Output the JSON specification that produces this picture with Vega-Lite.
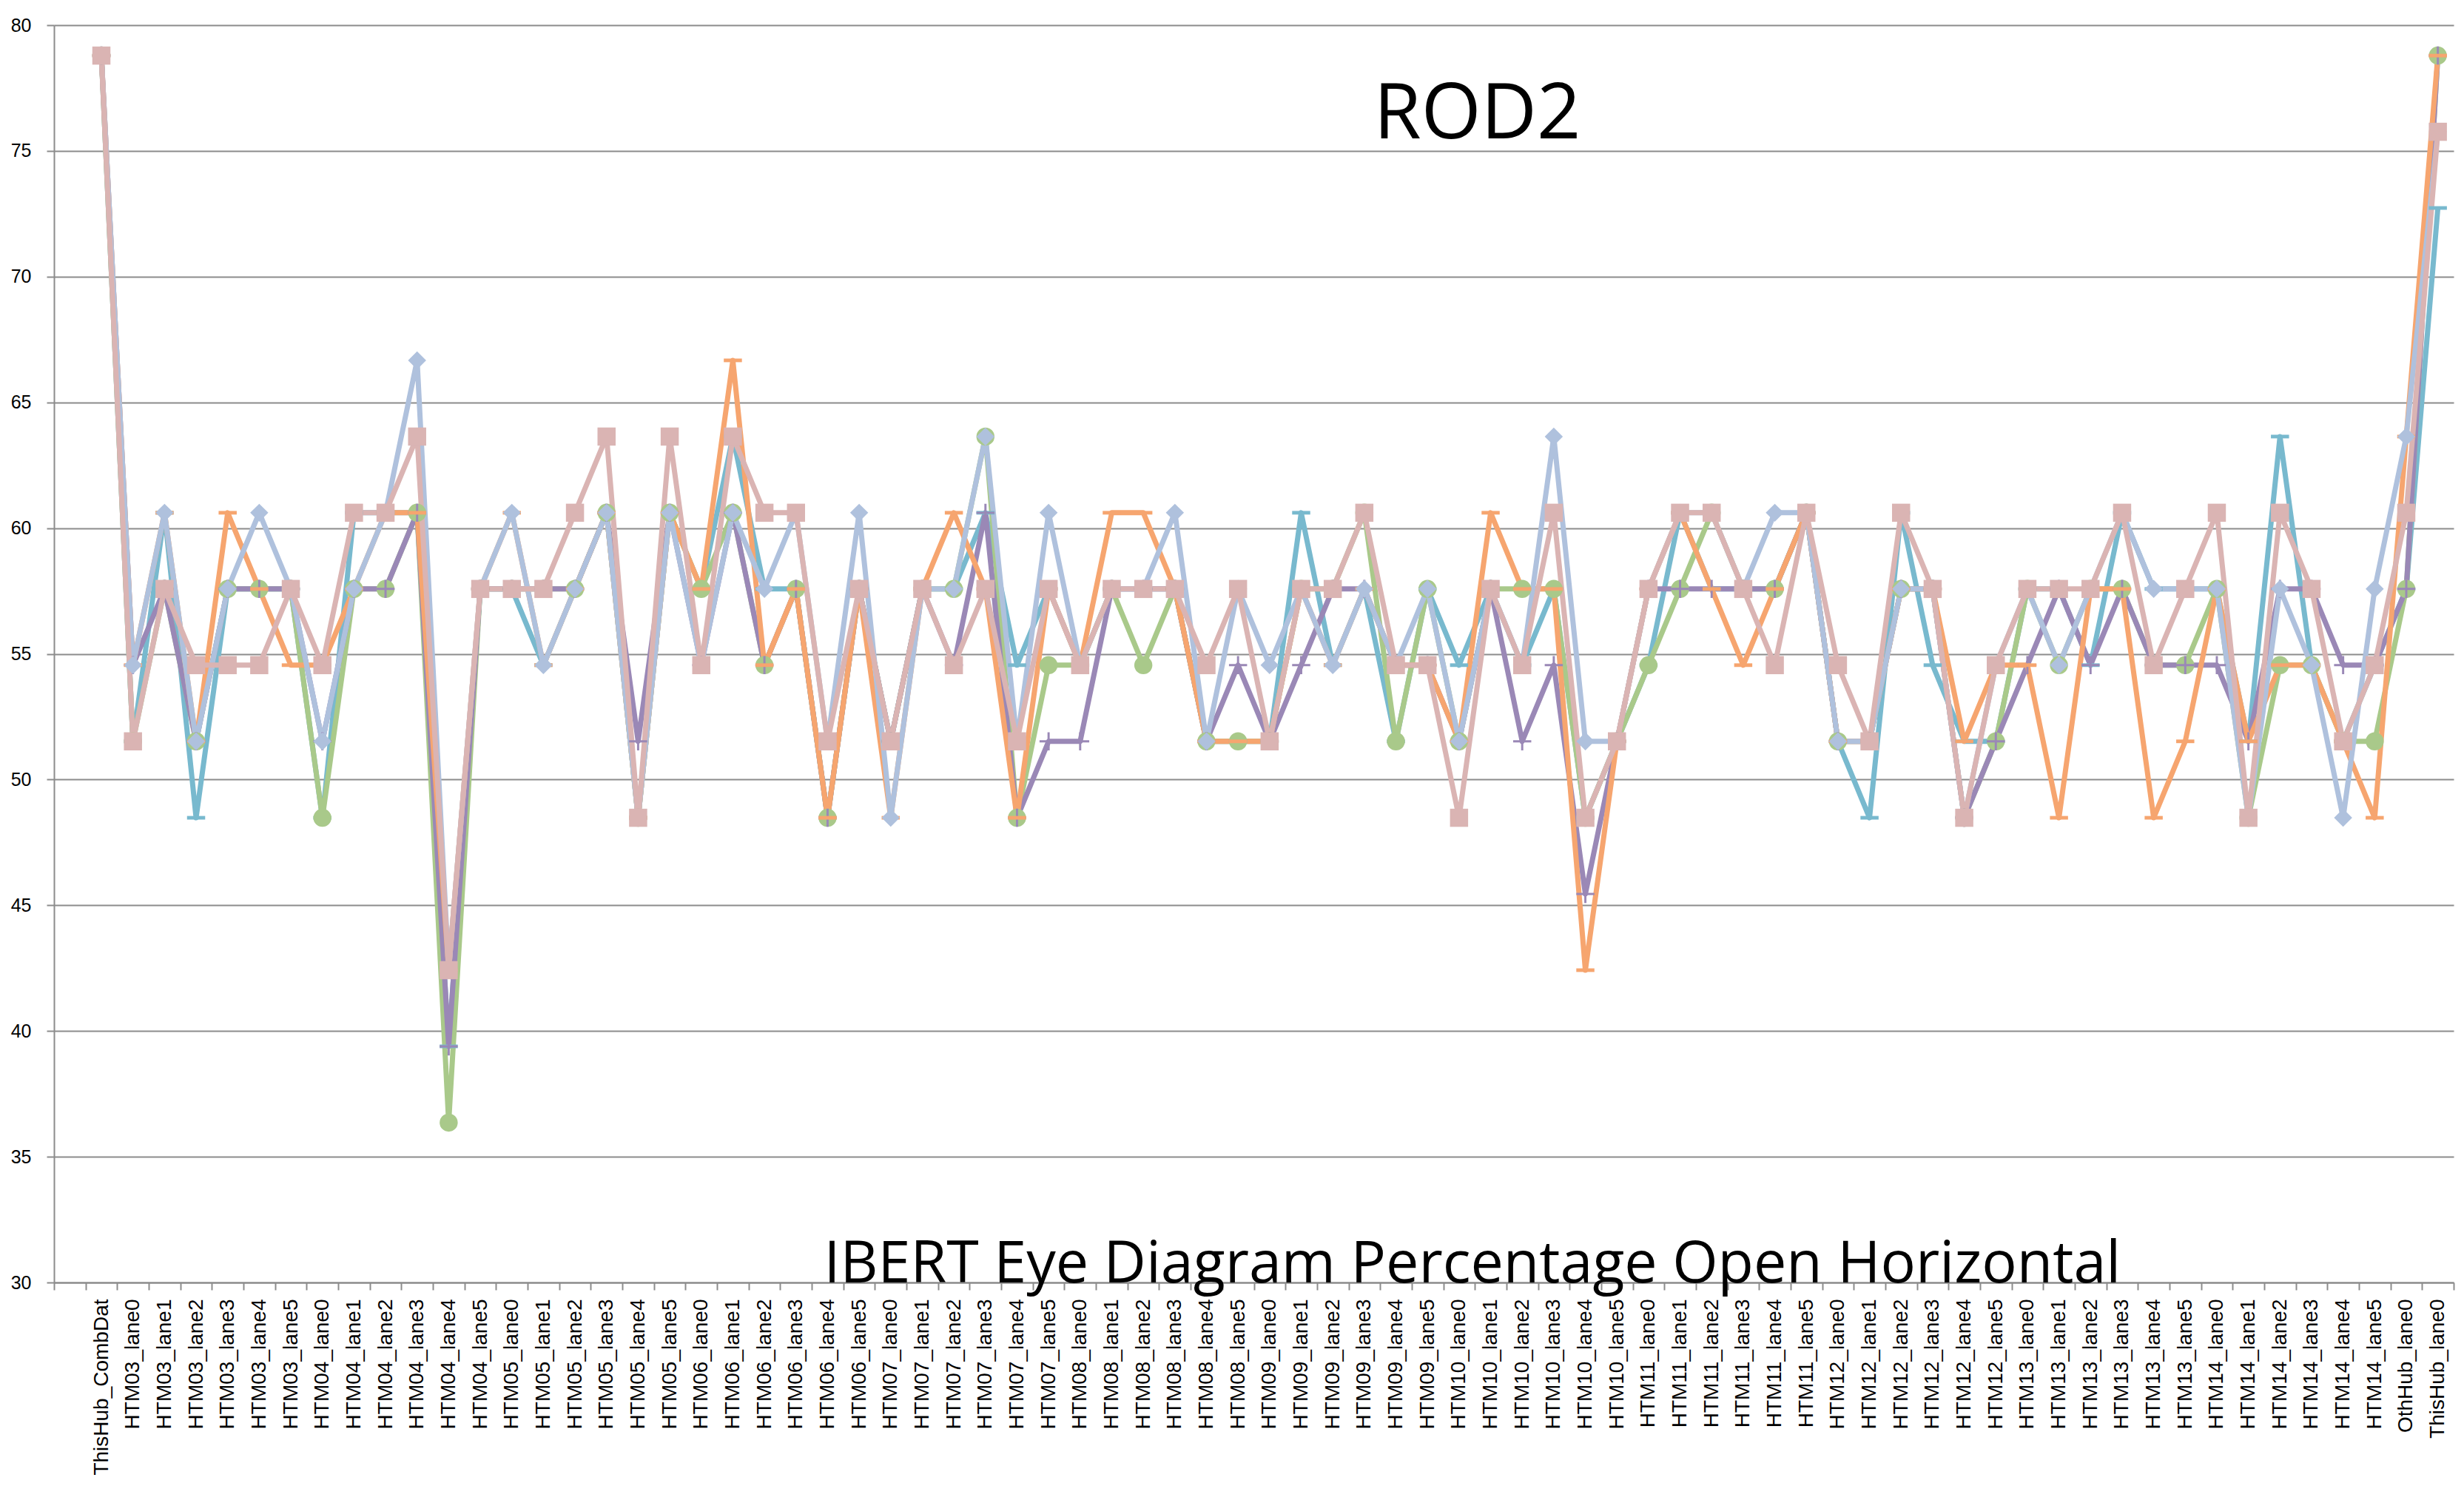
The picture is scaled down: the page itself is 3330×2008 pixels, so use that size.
{
  "$schema": "https://vega.github.io/schema/vega-lite/v6.json",
  "width": 3243,
  "height": 1699,
  "autosize": {"type": "none"},
  "padding": {"left": 73, "top": 34, "right": 14, "bottom": 275},
  "background": "white",
  "config": {
    "view": {"stroke": null},
    "axis": {"labelFont": "Liberation Sans", "labelColor": "#000000", "domainColor": "#8C8C8C", "domainWidth": 2, "tickColor": "#8C8C8C", "tickWidth": 2, "tickSize": 10, "title": null, "labelLimit": 0}
  },
  "datasets": {
    "rod2": [
      {"c": "ThisHub_CombDat", "S1": 78.79, "S2": 78.79, "S3": 78.79, "S4": 78.79, "S5": 78.79, "S6": 78.79},
      {"c": "HTM03_lane0", "S1": 51.52, "S2": 51.52, "S3": 54.55, "S4": 54.55, "S5": 54.55, "S6": 51.52},
      {"c": "HTM03_lane1", "S1": 60.61, "S2": 57.58, "S3": 57.58, "S4": 60.61, "S5": 60.61, "S6": 57.58},
      {"c": "HTM03_lane2", "S1": 48.48, "S2": 51.52, "S3": 51.52, "S4": 51.52, "S5": 51.52, "S6": 54.55},
      {"c": "HTM03_lane3", "S1": 57.58, "S2": 57.58, "S3": 57.58, "S4": 60.61, "S5": 57.58, "S6": 54.55},
      {"c": "HTM03_lane4", "S1": 57.58, "S2": 57.58, "S3": 57.58, "S4": 57.58, "S5": 60.61, "S6": 54.55},
      {"c": "HTM03_lane5", "S1": 57.58, "S2": 57.58, "S3": 57.58, "S4": 54.55, "S5": 57.58, "S6": 57.58},
      {"c": "HTM04_lane0", "S1": 48.48, "S2": 48.48, "S3": 51.52, "S4": 54.55, "S5": 51.52, "S6": 54.55},
      {"c": "HTM04_lane1", "S1": 60.61, "S2": 57.58, "S3": 57.58, "S4": 57.58, "S5": 57.58, "S6": 60.61},
      {"c": "HTM04_lane2", "S1": 60.61, "S2": 57.58, "S3": 57.58, "S4": 60.61, "S5": 60.61, "S6": 60.61},
      {"c": "HTM04_lane3", "S1": 60.61, "S2": 60.61, "S3": 60.61, "S4": 60.61, "S5": 66.67, "S6": 63.64},
      {"c": "HTM04_lane4", "S1": 39.39, "S2": 36.36, "S3": 39.39, "S4": 42.42, "S5": 42.42, "S6": 42.42},
      {"c": "HTM04_lane5", "S1": 57.58, "S2": 57.58, "S3": 57.58, "S4": 57.58, "S5": 57.58, "S6": 57.58},
      {"c": "HTM05_lane0", "S1": 57.58, "S2": 57.58, "S3": 57.58, "S4": 60.61, "S5": 60.61, "S6": 57.58},
      {"c": "HTM05_lane1", "S1": 54.55, "S2": 57.58, "S3": 57.58, "S4": 54.55, "S5": 54.55, "S6": 57.58},
      {"c": "HTM05_lane2", "S1": 57.58, "S2": 57.58, "S3": 57.58, "S4": 57.58, "S5": 57.58, "S6": 60.61},
      {"c": "HTM05_lane3", "S1": 60.61, "S2": 60.61, "S3": 60.61, "S4": 60.61, "S5": 60.61, "S6": 63.64},
      {"c": "HTM05_lane4", "S1": 48.48, "S2": 48.48, "S3": 51.52, "S4": 48.48, "S5": 48.48, "S6": 48.48},
      {"c": "HTM05_lane5", "S1": 60.61, "S2": 60.61, "S3": 60.61, "S4": 60.61, "S5": 60.61, "S6": 63.64},
      {"c": "HTM06_lane0", "S1": 57.58, "S2": 57.58, "S3": 54.55, "S4": 57.58, "S5": 54.55, "S6": 54.55},
      {"c": "HTM06_lane1", "S1": 63.64, "S2": 60.61, "S3": 60.61, "S4": 66.67, "S5": 60.61, "S6": 63.64},
      {"c": "HTM06_lane2", "S1": 57.58, "S2": 54.55, "S3": 54.55, "S4": 54.55, "S5": 57.58, "S6": 60.61},
      {"c": "HTM06_lane3", "S1": 57.58, "S2": 57.58, "S3": 57.58, "S4": 57.58, "S5": 60.61, "S6": 60.61},
      {"c": "HTM06_lane4", "S1": 48.48, "S2": 48.48, "S3": 48.48, "S4": 48.48, "S5": 51.52, "S6": 51.52},
      {"c": "HTM06_lane5", "S1": 57.58, "S2": 57.58, "S3": 57.58, "S4": 57.58, "S5": 60.61, "S6": 57.58},
      {"c": "HTM07_lane0", "S1": 51.52, "S2": 51.52, "S3": 51.52, "S4": 48.48, "S5": 48.48, "S6": 51.52},
      {"c": "HTM07_lane1", "S1": 57.58, "S2": 57.58, "S3": 57.58, "S4": 57.58, "S5": 57.58, "S6": 57.58},
      {"c": "HTM07_lane2", "S1": 57.58, "S2": 57.58, "S3": 54.55, "S4": 60.61, "S5": 57.58, "S6": 54.55},
      {"c": "HTM07_lane3", "S1": 60.61, "S2": 63.64, "S3": 60.61, "S4": 57.58, "S5": 63.64, "S6": 57.58},
      {"c": "HTM07_lane4", "S1": 54.55, "S2": 48.48, "S3": 48.48, "S4": 48.48, "S5": 51.52, "S6": 51.52},
      {"c": "HTM07_lane5", "S1": 57.58, "S2": 54.55, "S3": 51.52, "S4": 57.58, "S5": 60.61, "S6": 57.58},
      {"c": "HTM08_lane0", "S1": 54.55, "S2": 54.55, "S3": 51.52, "S4": 54.55, "S5": 54.55, "S6": 54.55},
      {"c": "HTM08_lane1", "S1": 57.58, "S2": 57.58, "S3": 57.58, "S4": 60.61, "S5": 57.58, "S6": 57.58},
      {"c": "HTM08_lane2", "S1": 57.58, "S2": 54.55, "S3": 57.58, "S4": 60.61, "S5": 57.58, "S6": 57.58},
      {"c": "HTM08_lane3", "S1": 57.58, "S2": 57.58, "S3": 57.58, "S4": 57.58, "S5": 60.61, "S6": 57.58},
      {"c": "HTM08_lane4", "S1": 51.52, "S2": 51.52, "S3": 51.52, "S4": 51.52, "S5": 51.52, "S6": 54.55},
      {"c": "HTM08_lane5", "S1": 51.52, "S2": 51.52, "S3": 54.55, "S4": 51.52, "S5": 57.58, "S6": 57.58},
      {"c": "HTM09_lane0", "S1": 51.52, "S2": 51.52, "S3": 51.52, "S4": 51.52, "S5": 54.55, "S6": 51.52},
      {"c": "HTM09_lane1", "S1": 60.61, "S2": 57.58, "S3": 54.55, "S4": 57.58, "S5": 57.58, "S6": 57.58},
      {"c": "HTM09_lane2", "S1": 54.55, "S2": 57.58, "S3": 57.58, "S4": 54.55, "S5": 54.55, "S6": 57.58},
      {"c": "HTM09_lane3", "S1": 57.58, "S2": 60.61, "S3": 57.58, "S4": 57.58, "S5": 57.58, "S6": 60.61},
      {"c": "HTM09_lane4", "S1": 51.52, "S2": 51.52, "S3": 54.55, "S4": 54.55, "S5": 54.55, "S6": 54.55},
      {"c": "HTM09_lane5", "S1": 57.58, "S2": 57.58, "S3": 54.55, "S4": 54.55, "S5": 57.58, "S6": 54.55},
      {"c": "HTM10_lane0", "S1": 54.55, "S2": 51.52, "S3": 51.52, "S4": 51.52, "S5": 51.52, "S6": 48.48},
      {"c": "HTM10_lane1", "S1": 57.58, "S2": 57.58, "S3": 57.58, "S4": 60.61, "S5": 57.58, "S6": 57.58},
      {"c": "HTM10_lane2", "S1": 54.55, "S2": 57.58, "S3": 51.52, "S4": 57.58, "S5": 54.55, "S6": 54.55},
      {"c": "HTM10_lane3", "S1": 57.58, "S2": 57.58, "S3": 54.55, "S4": 57.58, "S5": 63.64, "S6": 60.61},
      {"c": "HTM10_lane4", "S1": 48.48, "S2": 48.48, "S3": 45.45, "S4": 42.42, "S5": 51.52, "S6": 48.48},
      {"c": "HTM10_lane5", "S1": 51.52, "S2": 51.52, "S3": 51.52, "S4": 51.52, "S5": 51.52, "S6": 51.52},
      {"c": "HTM11_lane0", "S1": 54.55, "S2": 54.55, "S3": 57.58, "S4": 57.58, "S5": 57.58, "S6": 57.58},
      {"c": "HTM11_lane1", "S1": 60.61, "S2": 57.58, "S3": 57.58, "S4": 60.61, "S5": 60.61, "S6": 60.61},
      {"c": "HTM11_lane2", "S1": 57.58, "S2": 60.61, "S3": 57.58, "S4": 57.58, "S5": 60.61, "S6": 60.61},
      {"c": "HTM11_lane3", "S1": 57.58, "S2": 57.58, "S3": 57.58, "S4": 54.55, "S5": 57.58, "S6": 57.58},
      {"c": "HTM11_lane4", "S1": 57.58, "S2": 57.58, "S3": 57.58, "S4": 57.58, "S5": 60.61, "S6": 54.55},
      {"c": "HTM11_lane5", "S1": 60.61, "S2": 60.61, "S3": 60.61, "S4": 60.61, "S5": 60.61, "S6": 60.61},
      {"c": "HTM12_lane0", "S1": 51.52, "S2": 51.52, "S3": 51.52, "S4": 51.52, "S5": 51.52, "S6": 54.55},
      {"c": "HTM12_lane1", "S1": 48.48, "S2": 51.52, "S3": 51.52, "S4": 51.52, "S5": 51.52, "S6": 51.52},
      {"c": "HTM12_lane2", "S1": 60.61, "S2": 57.58, "S3": 57.58, "S4": 57.58, "S5": 57.58, "S6": 60.61},
      {"c": "HTM12_lane3", "S1": 54.55, "S2": 57.58, "S3": 57.58, "S4": 57.58, "S5": 57.58, "S6": 57.58},
      {"c": "HTM12_lane4", "S1": 51.52, "S2": 48.48, "S3": 48.48, "S4": 51.52, "S5": 48.48, "S6": 48.48},
      {"c": "HTM12_lane5", "S1": 51.52, "S2": 51.52, "S3": 51.52, "S4": 54.55, "S5": 54.55, "S6": 54.55},
      {"c": "HTM13_lane0", "S1": 57.58, "S2": 57.58, "S3": 54.55, "S4": 54.55, "S5": 57.58, "S6": 57.58},
      {"c": "HTM13_lane1", "S1": 57.58, "S2": 54.55, "S3": 57.58, "S4": 48.48, "S5": 54.55, "S6": 57.58},
      {"c": "HTM13_lane2", "S1": 54.55, "S2": 57.58, "S3": 54.55, "S4": 57.58, "S5": 57.58, "S6": 57.58},
      {"c": "HTM13_lane3", "S1": 60.61, "S2": 57.58, "S3": 57.58, "S4": 57.58, "S5": 60.61, "S6": 60.61},
      {"c": "HTM13_lane4", "S1": 57.58, "S2": 54.55, "S3": 54.55, "S4": 48.48, "S5": 57.58, "S6": 54.55},
      {"c": "HTM13_lane5", "S1": 57.58, "S2": 54.55, "S3": 54.55, "S4": 51.52, "S5": 57.58, "S6": 57.58},
      {"c": "HTM14_lane0", "S1": 57.58, "S2": 57.58, "S3": 54.55, "S4": 57.58, "S5": 57.58, "S6": 60.61},
      {"c": "HTM14_lane1", "S1": 51.52, "S2": 48.48, "S3": 51.52, "S4": 51.52, "S5": 48.48, "S6": 48.48},
      {"c": "HTM14_lane2", "S1": 63.64, "S2": 54.55, "S3": 57.58, "S4": 54.55, "S5": 57.58, "S6": 60.61},
      {"c": "HTM14_lane3", "S1": 54.55, "S2": 54.55, "S3": 57.58, "S4": 54.55, "S5": 54.55, "S6": 57.58},
      {"c": "HTM14_lane4", "S1": 51.52, "S2": 51.52, "S3": 54.55, "S4": 51.52, "S5": 48.48, "S6": 51.52},
      {"c": "HTM14_lane5", "S1": 54.55, "S2": 51.52, "S3": 54.55, "S4": 48.48, "S5": 57.58, "S6": 54.55},
      {"c": "OthHub_lane0", "S1": 57.58, "S2": 57.58, "S3": 57.58, "S4": 63.64, "S5": 63.64, "S6": 60.61},
      {"c": "ThisHub_lane0", "S1": 72.73, "S2": 78.79, "S3": 78.79, "S4": 78.79, "S5": 75.76, "S6": 75.76}
    ],
    "labels": [
      {"t": "ROD2", "c": "HTM10_lane1", "v": 75.5},
      {"t": "IBERT Eye Diagram Percentage Open Horizontal", "c": "HTM10_lane0", "v": 30}
    ]
  },
  "encoding": {
    "x": {
      "field": "c",
      "type": "nominal",
      "scale": {
        "type": "band",
        "paddingInner": 0,
        "paddingOuter": 0,
        "domain": [" ", "ThisHub_CombDat",
          "HTM03_lane0", "HTM03_lane1", "HTM03_lane2", "HTM03_lane3", "HTM03_lane4", "HTM03_lane5",
          "HTM04_lane0", "HTM04_lane1", "HTM04_lane2", "HTM04_lane3", "HTM04_lane4", "HTM04_lane5",
          "HTM05_lane0", "HTM05_lane1", "HTM05_lane2", "HTM05_lane3", "HTM05_lane4", "HTM05_lane5",
          "HTM06_lane0", "HTM06_lane1", "HTM06_lane2", "HTM06_lane3", "HTM06_lane4", "HTM06_lane5",
          "HTM07_lane0", "HTM07_lane1", "HTM07_lane2", "HTM07_lane3", "HTM07_lane4", "HTM07_lane5",
          "HTM08_lane0", "HTM08_lane1", "HTM08_lane2", "HTM08_lane3", "HTM08_lane4", "HTM08_lane5",
          "HTM09_lane0", "HTM09_lane1", "HTM09_lane2", "HTM09_lane3", "HTM09_lane4", "HTM09_lane5",
          "HTM10_lane0", "HTM10_lane1", "HTM10_lane2", "HTM10_lane3", "HTM10_lane4", "HTM10_lane5",
          "HTM11_lane0", "HTM11_lane1", "HTM11_lane2", "HTM11_lane3", "HTM11_lane4", "HTM11_lane5",
          "HTM12_lane0", "HTM12_lane1", "HTM12_lane2", "HTM12_lane3", "HTM12_lane4", "HTM12_lane5",
          "HTM13_lane0", "HTM13_lane1", "HTM13_lane2", "HTM13_lane3", "HTM13_lane4", "HTM13_lane5",
          "HTM14_lane0", "HTM14_lane1", "HTM14_lane2", "HTM14_lane3", "HTM14_lane4", "HTM14_lane5",
          "OthHub_lane0", "ThisHub_lane0"]
      },
      "axis": {
        "labelAngle": -90,
        "labelFontSize": 28,
        "labelPadding": 12,
        "labelOverlap": false,
        "tickBand": "extent",
        "grid": false
      }
    },
    "y": {
      "field": "v",
      "type": "quantitative",
      "scale": {"domain": [30, 80], "nice": false, "zero": false},
      "axis": {
        "values": [30, 35, 40, 45, 50, 55, 60, 65, 70, 75, 80],
        "grid": true,
        "gridColor": "#8C8C8C",
        "gridWidth": 2,
        "labelFontSize": 25,
        "labelPadding": 21
      }
    }
  },
  "layer": [
    {
      "data": {"name": "rod2"},
      "transform": [{"fold": ["S1", "S2", "S3", "S4", "S5", "S6"], "as": ["series", "v"]}],
      "mark": {"type": "line", "strokeWidth": 7, "strokeJoin": "round"},
      "encoding": {
        "color": {"field": "series", "type": "nominal", "legend": null,
          "scale": {"domain": ["S1", "S2", "S3", "S4", "S5", "S6"], "range": ["#78B9CE", "#A9C98A", "#9A88B6", "#F6A56F", "#AFC1DD", "#DAB4B3"]}},
        "order": {"value": null}
      }
    },
    {
      "data": {"name": "rod2"},
      "transform": [{"fold": ["S1", "S2", "S3", "S4", "S5", "S6"], "as": ["series", "v"]}],
      "mark": {"type": "point", "filled": true, "opacity": 1, "strokeWidth": 0},
      "encoding": {
        "color": {"field": "series", "type": "nominal", "legend": null},
        "shape": {"field": "series", "type": "nominal", "legend": null,
          "scale": {"domain": ["S1", "S2", "S3", "S4", "S5", "S6"],
            "range": ["M-1,-0.2L1,-0.2L1,0.2L-1,0.2Z", "circle", "M-1,-0.12L1,-0.12L1,0.12L-1,0.12Z M-0.12,-1L0.12,-1L0.12,1L-0.12,1Z", "M-1,-0.2L1,-0.2L1,0.2L-1,0.2Z", "diamond", "square"]}},
        "size": {"field": "series", "type": "nominal", "legend": null,
          "scale": {"domain": ["S1", "S2", "S3", "S4", "S5", "S6"], "range": [600, 600, 529, 600, 760, 640]}}
      }
    },
    {
      "data": {"name": "labels"},
      "transform": [{"filter": "datum.t === 'ROD2'"}],
      "mark": {"type": "text", "font": "Open Sans", "fontSize": 104, "color": "#000000", "align": "center", "baseline": "alphabetic", "dx": -18},
      "encoding": {"text": {"field": "t"}}
    },
    {
      "data": {"name": "labels"},
      "transform": [{"filter": "datum.t !== 'ROD2'"}],
      "mark": {"type": "text", "font": "Open Sans", "fontSize": 79, "color": "#000000", "align": "center", "baseline": "alphabetic", "dx": 18},
      "encoding": {"text": {"field": "t"}}
    }
  ]
}
